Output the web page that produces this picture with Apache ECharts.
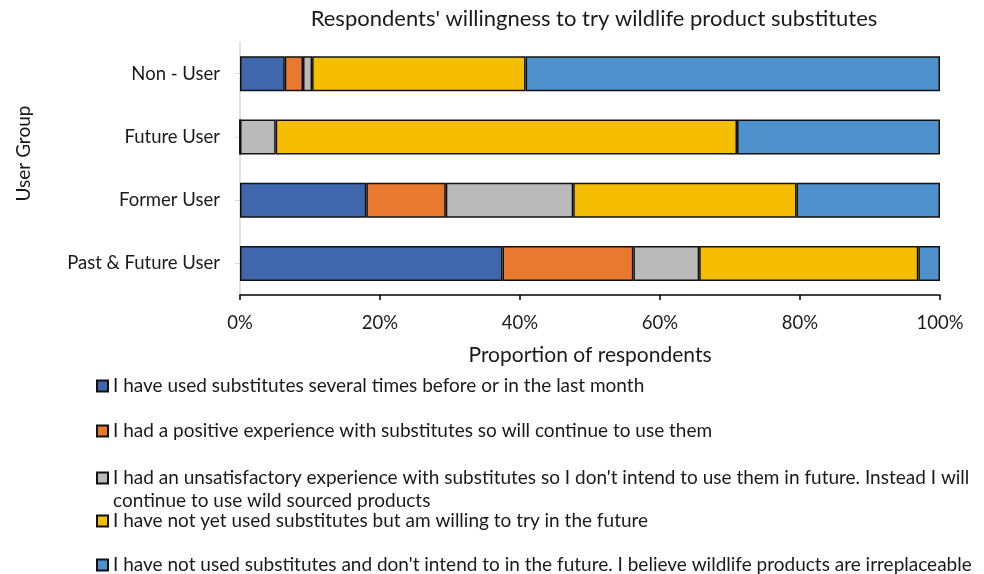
<!DOCTYPE html>
<html><head><meta charset="utf-8">
<script src="https://cdn.jsdelivr.net/npm/echarts@6/dist/echarts.min.js"></script>
<style>html,body{margin:0;padding:0;background:#fff}#c{width:984px;height:574px}</style>
</head><body><div id="c"></div>
<script>
const categories = ['Past & Future User', 'Former User', 'Future User', 'Non - User'];
const seriesNames = [
  'I have used substitutes several times before or in the last month',
  'I had a positive experience with substitutes so will continue to use them',
  "I had an unsatisfactory experience with substitutes so I don't intend to use them in future. Instead I will continue to use wild sourced products",
  'I have not yet used substitutes but am willing to try in the future',
  "I have not used substitutes and don't intend to in the future. I believe wildlife products are irreplaceable"
];
const usedSeveral = [37.5, 18.05, 0, 6.4];
const positive = [18.7, 11.35, 0, 2.6];
const unsatisfactory = [9.4, 18.2, 5.1, 1.3];
const willingToTry = [31.3, 31.9, 65.9, 30.5];
const irreplaceable = [3.1, 20.5, 29.0, 59.2];
const xTicks = [0, 20, 40, 60, 80, 100];

const colors = ['#3F67AE', '#E8792F', '#BABABA', '#F6BE00', '#4F91CD'];
const values = [usedSeveral, positive, unsatisfactory, willingToTry, irreplaceable];
const FONT = 'Lato';
const TXT = '#1a1a1a';
const legendCenters = [386, 431, 478, 521, 565];

function legendFormatter(name) {
  const cut = name.indexOf(' continue to use wild');
  if (cut > 0) return '\n' + name.slice(0, cut) + '\n' + name.slice(cut + 1);
  return name;
}

const chart = echarts.init(document.getElementById('c'));
chart.setOption({
  animation: false,
  textStyle: { fontFamily: FONT, color: TXT },
  title: {
    text: "Respondents' willingness to try wildlife product substitutes",
    left: 594, top: 8, textAlign: 'center', padding: 0,
    textStyle: { fontFamily: FONT, fontSize: 22, fontWeight: 'normal', color: TXT }
  },
  grid: { left: 240, right: 44, top: 42, bottom: 279, containLabel: false },
  xAxis: {
    type: 'value', min: 0, max: 100, interval: 20,
    axisLine: { show: true, lineStyle: { color: '#000', width: 1.5 } },
    axisTick: { show: true, length: 5, lineStyle: { color: '#000', width: 1.5 } },
    splitLine: { show: false },
    axisLabel: { formatter: '{value}%', fontSize: 18.5, color: TXT, margin: 19, fontFamily: FONT },
    name: 'Proportion of respondents', nameLocation: 'middle', nameGap: 50,
    nameTextStyle: { fontSize: 21, color: TXT, fontFamily: FONT }
  },
  yAxis: {
    type: 'category', data: categories,
    axisLine: { show: true, lineStyle: { color: '#d9d9d9', width: 1.5 } },
    axisTick: { show: true, alignWithLabel: true, length: 5, lineStyle: { color: '#d9d9d9' } },
    axisLabel: { fontSize: 18.5, color: TXT, margin: 20, fontFamily: FONT },
    name: 'User Group', nameLocation: 'middle', nameGap: 207,
    nameTextStyle: { fontSize: 19, color: TXT, fontFamily: FONT, padding: [0, 0, 0, 30] }
  },
  legend: seriesNames.map((n, i) => ({
    data: [n], orient: 'vertical', left: 96,
    top: i === 2 ? legendCenters[i] - 34.5 : legendCenters[i] - 11.5,
    padding: 0, itemWidth: 11, itemHeight: 11, itemGap: 5, icon: 'rect', selectedMode: false,
    formatter: legendFormatter,
    textStyle: { fontSize: 19, color: TXT, fontFamily: FONT, lineHeight: 23 }
  })),
  series: seriesNames.map((n, i) => ({
    name: n, type: 'bar', stack: 'total', data: values[i], barWidth: 35,
    itemStyle: { color: colors[i], borderColor: '#111', borderWidth: 1.5 }
  }))
});
</script></body></html>
